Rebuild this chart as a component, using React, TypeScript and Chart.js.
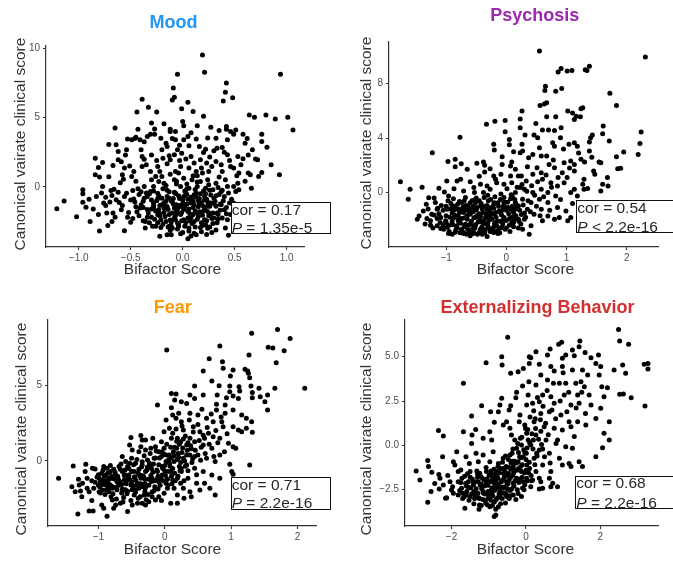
import React, { useEffect, useRef } from "react";
import { Chart, registerables } from "chart.js";

Chart.register(...registerables);

type Pt = [number, number];

// ---------------- DATA ----------------
const moodTitle = "Mood";
const psychosisTitle = "Psychosis";
const fearTitle = "Fear";
const externalizingTitle = "Externalizing Behavior";

const xAxisLabel = "Bifactor Score";
const yAxisLabel = "Canonical vairate clinical score";

const moodXTicks = [-1, -0.5, 0, 0.5, 1];
const moodYTicks = [0, 5, 10];
const psychosisXTicks = [-1, 0, 1, 2];
const psychosisYTicks = [0, 4, 8];
const fearXTicks = [-1, 0, 1, 2];
const fearYTicks = [0, 5];
const externalizingXTicks = [-2, 0, 2];
const externalizingYTicks = [-2.5, 0, 2.5, 5];

const moodCor = "0.17";
const moodP = "= 1.35e-5";
const psychosisCor = "0.54";
const psychosisP = "< 2.2e-16";
const fearCor = "0.71";
const fearP = "= 2.2e-16";
const externalizingCor = "0.68";
const externalizingP = "= 2.2e-16";

const moodPoints: Pt[] = [
  [-1.21,-1.59],[-1.14,-1.03],[-1.02,-2.16],[-0.96,-0.5],[-0.96,-0.22],[-0.96,-1.11],[-0.93,-1.47],[-0.89,-2.5],
  [-0.84,2.07],[-0.81,1.39],[-0.77,1.75],[-0.84,0.87],[-0.8,0.7],[-0.83,-0.7],[-0.77,0.02],[-0.76,-1.18],
  [-0.74,-1.35],[-0.74,-0.75],[-0.81,-2.0],[-0.8,-3.2],[-0.71,3.05],[-0.64,3.03],[-0.65,4.25],[-0.71,0.72],
  [-0.69,-0.26],[-0.66,-0.17],[-0.67,1.54],[-0.62,1.95],[-0.59,1.8],[-0.56,1.35],[-0.51,1.51],[-0.68,-0.63],
  [-0.64,-0.94],[-0.67,-1.9],[-0.72,-2.79],[-0.68,-2.5],[-0.61,-1.13],[-0.59,-1.66],[-0.56,-0.7],[-0.56,-3.17],
  [-0.54,-0.46],[-0.52,-1.85],[-0.5,-2.57],[-0.58,0.87],[-0.57,0.55],[-0.48,-0.26],[-0.47,-0.89],[-0.44,5.41],
  [-0.39,6.32],[-0.33,5.75],[-0.25,5.41],[-0.54,2.67],[-0.53,3.46],[-0.49,3.39],[-0.46,3.49],[-0.45,3.58],
  [-0.41,3.39],[-0.37,3.25],[-0.34,3.63],[-0.31,3.8],[-0.27,4.18],[-0.27,3.8],[-0.4,2.67],[-0.39,2.19],
  [-0.37,1.99],[-0.39,1.47],[-0.47,1.11],[-0.49,0.75],[-0.43,-0.14],[-0.37,0.02],[-0.37,-0.82],[-0.38,-2.45],
  [-0.36,-2.98],[-0.41,-1.54],[-0.31,1.11],[-0.3,0.5],[-0.31,-0.34],[-0.24,1.47],[-0.21,3.51],[-0.2,2.67],
  [-0.19,2.07],[-0.16,3.15],[-0.15,2.91],[-0.1,3.49],[-0.12,3.99],[-0.09,7.14],[-0.1,6.27],[-0.08,6.47],
  [-0.12,4.16],[-0.15,1.66],[-0.13,2.24],[-0.12,1.95],[-0.08,2.31],[-0.26,0.75],[-0.23,0.38],[-0.2,0.75],
  [-0.18,0.26],[-0.28,0.02],[-0.24,-0.46],[-0.34,-0.7],[-0.28,-1.18],[-0.23,-1.66],[-0.18,-1.18],[-0.13,-0.82],
  [-0.15,-1.42],[-0.1,-1.9],[-0.21,-2.38],[-0.16,-2.5],[-0.13,-2.86],[-0.22,-3.58],[-0.15,-3.46],[-0.11,-3.46],
  [-0.29,-2.86],[-0.24,-2.02],[-0.07,-0.46],[-0.08,0.5],[-0.07,1.11],[-0.2,-0.82],[-0.18,-1.54],[-0.08,-1.54],
  [-0.28,-1.54],[-0.33,-1.9],[-0.07,-2.38],[-0.11,-2.86],
  [0.19,9.52],[0.21,8.27],[-0.05,8.13],[0.94,8.13],[0.42,7.5],[0.41,6.83],[0.48,6.44],[0.39,6.2],
  [0.05,6.11],[-0.01,5.63],[0.1,5.43],[0.64,5.19],[0.69,5.02],[0.8,5.19],[0.89,4.9],[1.01,5.02],
  [1.06,4.11],[0.0,4.71],[0.01,4.4],[0.14,4.4],[0.42,4.35],[0.42,4.16],[0.46,3.99],[0.51,4.11],
  [0.49,3.8],[0.35,4.06],[0.24,3.53],[0.32,3.51],[0.76,3.8],[0.76,3.27],[0.81,2.86],[0.62,3.49],
  [0.6,3.15],[0.67,2.67],[0.7,2.0],[0.72,1.95],[0.85,1.59],[0.93,0.87],[0.76,1.03],[0.73,0.75],
  [0.63,0.99],[0.65,0.87],[0.58,2.02],[0.53,2.19],[0.46,1.47],[0.49,1.35],[0.54,0.99],[0.53,0.26],
  [0.49,0.02],[0.52,0.79],[0.54,-0.22],[0.43,3.39],[0.38,2.84],[0.4,2.5],[0.43,2.31],[0.33,2.79],
  [0.3,2.6],[0.22,2.72],[0.2,2.48],[0.16,2.91],[0.13,3.46],[0.05,3.63],[-0.07,4.0],[-0.07,3.39],
  [0.01,3.39],[0.06,2.96],[-0.05,2.67],[-0.01,2.43],[0.08,2.19],[0.11,1.71],[0.17,1.95],[0.23,1.71],
  [0.28,1.47],[0.32,1.83],[0.37,1.59],[0.38,1.11],[0.25,1.11],[0.19,0.99],[0.13,1.11],[0.06,1.35],
  [-0.02,1.47],[-0.04,0.99],[0.01,0.62],[0.09,0.5],[0.17,0.38],[0.24,0.5],[0.32,0.26],[0.41,0.5],
  [0.43,0.02],[0.37,-0.34],[0.29,-0.22],[0.22,-0.1],[0.14,0.02],[0.06,-0.1],[-0.02,0.02],[-0.07,-0.46],
  [0.01,-0.7],[0.11,-0.58],[0.21,-0.7],[0.3,-0.82],[0.4,-0.7],[0.45,-1.18],[0.49,-1.18],[0.37,-1.3],
  [0.27,-1.18],[0.17,-1.3],[0.08,-1.18],[-0.02,-1.42],[-0.05,-1.9],[0.05,-1.78],[0.14,-1.9],[0.24,-1.78],
  [0.33,-1.9],[0.4,-1.66],[0.43,-2.38],[0.3,-2.26],[0.21,-2.38],[0.11,-2.5],[0.01,-2.38],[-0.05,-2.62],
  [0.06,-2.98],[0.13,-3.46],[0.05,-3.75],[0.24,-3.0],[0.32,-3.12],[0.41,-2.98],[0.44,-3.51],[0.51,-0.34],
  [-0.25,-1.0],[-0.2,-1.3],[-0.15,-0.7],[-0.1,-1.1],[-0.05,-1.6],[0.0,-1.2],[0.05,-0.9],[0.1,-1.5],
  [0.15,-1.0],[0.2,-1.4],[-0.22,-2.1],[-0.12,-2.4],[-0.02,-2.0],[0.08,-2.2],[0.18,-2.6],[0.28,-2.3],
  [-0.3,-1.6],[-0.18,-1.85],[-0.08,-0.4],[0.02,-0.3],[0.12,-0.2],[0.22,-0.5],[0.32,-1.4],[-0.28,-0.3],
  [-0.16,0.1],[-0.06,0.4],[0.04,0.2],[0.14,0.8],[0.24,-1.1],[-0.14,-2.9],[-0.04,-2.7],[0.06,-3.2],
  [0.16,-1.8],[0.26,-2.9],[0.34,-2.0],[-0.24,-2.6],[-0.34,-2.2],[-0.44,-1.8],[-0.4,-1.3],[-0.48,-2.3],
  [-0.38,-1.05],[-0.35,-0.45],[-0.32,-2.6],[-0.3,-0.95],[-0.27,-2.35],[-0.26,-1.75],[-0.23,-0.65],[-0.22,-1.35],
  [-0.21,-2.95],[-0.19,-0.15],[-0.17,-2.15],[-0.16,-1.05],[-0.14,-1.65],[-0.13,-0.35],[-0.12,-3.15],[-0.11,-2.55],
  [-0.09,-1.25],[-0.09,-0.85],[-0.07,-2.1],[-0.06,-1.75],[-0.05,-3.05],[-0.04,-0.65],[-0.03,-1.35],[-0.01,-2.45],
  [0.0,-0.95],[0.01,-1.65],[0.02,-2.85],[0.03,-0.45],[0.04,-1.25],[0.05,-2.25],[0.07,-1.95],[0.08,-0.75],
  [0.09,-2.65],[0.1,-1.05],[0.11,-3.35],[0.12,-1.75],[0.13,-0.45],[0.14,-2.35],[0.15,-1.45],[0.16,-0.85],
  [0.17,-2.95],[0.18,-1.15],[0.19,-2.05],[0.2,-0.3],[0.21,-1.6],[0.22,-2.75],[0.23,-0.9],[0.25,-2.1],
  [0.26,-1.4],[0.27,-0.6],[0.28,-3.3],[0.29,-1.9],[0.31,-1.05],[0.33,-2.6],[0.35,-0.55],[0.36,-1.7],
  [0.38,-2.25],[0.39,-1.0],[0.42,-1.5],[0.44,-0.45],[0.46,-2.0],[0.47,-0.9],[-0.42,-0.55],[-0.45,-1.45],
  [-0.5,-0.95],[-0.53,-2.2],[-0.58,-1.35],[-0.62,-0.4],[-0.65,-2.2],[-0.7,-1.1],[-0.73,-1.9],[-0.78,-0.45],
  [-0.86,-1.6],[-0.9,-0.9],[-0.6,0.3],[-0.45,0.4],[-0.35,1.6],[-0.3,2.3],[-0.25,1.9],[-0.22,1.1],
  [-0.12,0.9],[-0.03,1.9],[0.03,2.0],[0.1,0.8],[0.18,1.35],[0.26,2.15],[0.35,0.7],[0.45,1.9],
  [0.56,1.6],[0.6,0.4],[0.66,-0.1],[-0.03,3.0],[0.08,3.9],[-0.18,4.55],[0.27,4.3],[0.58,3.8],
  [0.63,2.3],[-0.55,2.3],[-0.62,2.55],[-0.43,4.15],[0.2,5.1],[-0.3,4.6],
  [-0.19,-2.7],[-0.17,-1.45],[-0.15,-0.25],[-0.13,-2.0],[-0.11,-1.0],[-0.1,-3.0],[-0.08,-2.25],[-0.06,-1.3],
  [-0.04,-2.85],[-0.03,-0.85],[-0.01,-1.85],[0.0,-3.3],[0.02,-1.45],[0.03,-2.6],[0.04,-0.55],[0.06,-1.6],
  [0.07,-2.45],[0.09,-0.95],[0.1,-2.0],[0.11,-1.3],[0.12,-2.9],[0.13,-0.75],[0.15,-2.15],[0.16,-1.2],
  [0.17,-0.5],[0.19,-2.8],[0.2,-1.75],[0.21,-0.95],[0.23,-2.45],[0.24,-1.4],[0.26,-0.25],[0.27,-1.95],
  [0.29,-2.65],[0.3,-1.2],[0.32,-0.65],[0.34,-2.35],[0.36,-1.25],[0.38,-0.25],[-0.22,-1.95],[-0.24,-0.85],
  [-0.26,-2.85],[-0.28,-1.35],[-0.3,-2.2],[-0.32,-0.5],[-0.34,-1.65],[-0.36,-2.5],[-0.38,-1.5],[-0.4,-0.35],
  [-0.42,-2.1],[-0.46,-1.1],[0.18,-3.25],[0.08,-3.55],[-0.02,-3.4],[0.23,-3.45],[0.14,0.35],[0.04,-0.15],
  [-0.06,0.2],[0.25,0.15],[0.34,-0.05],[0.42,-1.95]
];

const psychosisPoints: Pt[] = [
  [-1.76,0.8],[-1.6,0.24],[-1.63,-0.49],[-1.4,0.39],[-1.45,-1.71],[-1.48,-1.95],[-1.29,-0.37],[-1.33,-0.85],
  [-1.24,-1.59],[-1.26,-2.07],[-1.18,-0.73],[-1.12,0.32],[-1.15,-1.22],[-1.09,-1.83],[-1.15,-2.44],[-1.09,-2.63],
  [-1.03,0.05],[-0.99,0.85],[-0.97,2.29],[-1.23,2.93],[-0.85,2.44],[-0.85,1.9],[-0.77,4.07],[-0.75,2.12],
  [-0.65,1.71],[-0.82,0.85],[-0.76,0.98],[-0.87,0.29],[-0.96,-0.24],[-0.9,-0.98],[-0.98,-1.22],[-0.87,-1.83],
  [-0.9,-3.05],[-0.82,-2.56],[-0.79,-1.22],[-0.74,-0.73],[-0.71,0.12],[-0.65,-1.95],[-0.71,-2.93],[-0.6,-3.17],
  [-0.57,-1.22],[-0.54,0.37],[-0.53,0.0],[-0.49,2.15],[-0.38,2.24],[-0.36,2.0],[-0.36,1.51],[-0.33,5.02],
  [-0.19,5.24],[-0.02,5.29],[-0.02,4.46],[-0.27,1.76],[-0.21,1.22],[-0.18,0.98],[-0.21,3.54],[-0.2,3.12],
  [-0.07,2.63],[-0.07,2.07],[-0.09,1.34],[0.05,3.9],[0.05,3.51],[0.09,2.24],[0.07,1.95],[0.23,5.41],
  [0.26,5.98],[0.23,4.76],[0.26,3.54],[0.23,2.93],[-0.43,0.61],[-0.38,0.0],[-0.32,0.49],[-0.27,0.24],
  [-0.16,0.73],[-0.04,0.61],[0.01,0.29],[0.09,0.73],[0.15,0.0],[0.23,0.37],[0.2,1.22],[0.15,1.71],
  [0.07,1.22],[0.15,-0.73],[0.07,-1.22],[-0.04,-0.73],[-0.1,-1.46],[-0.18,-2.2],[-0.27,-2.68],[-0.32,-3.22],
  [-0.21,-2.93],[-0.07,-2.56],[-0.02,-2.68],[-0.04,-1.83],[-0.32,-1.22],[-0.43,-0.98],[-0.49,-1.71],[-0.54,-2.44],
  [-0.43,-2.68],[-0.38,-2.07],[-0.27,-1.71],[-0.21,-0.85],[-0.65,-0.98],[-0.71,-1.46],[-0.6,-1.59],[-0.51,-0.73],
  [-1.01,-2.07],[-1.04,-2.68],[-0.79,-2.2],[-0.74,-2.8],[-0.54,-2.93],[-0.68,-2.32],[0.12,-1.46],[0.2,-1.95],
  [0.2,-0.98],[0.12,-2.2],
  [0.55,10.39],[2.31,9.95],[0.86,8.85],[0.91,9.1],[1.01,8.93],[1.09,8.95],[1.31,9.02],[1.38,9.27],
  [1.34,8.95],[0.65,7.8],[0.64,7.49],[0.82,7.44],[0.92,7.63],[1.72,7.29],[1.83,6.39],[0.56,6.39],
  [0.63,6.51],[0.67,6.59],[0.49,5.07],[0.67,5.56],[0.82,5.56],[1.02,5.98],[1.1,5.85],[1.13,5.37],
  [1.16,5.61],[1.24,6.15],[1.27,6.22],[1.23,5.56],[1.61,4.88],[1.6,4.32],[1.43,4.22],[1.4,4.02],
  [0.31,4.22],[0.46,4.22],[0.52,4.02],[0.7,4.59],[0.8,4.56],[0.91,4.76],[0.77,3.66],[0.8,3.41],
  [0.9,4.02],[1.04,3.54],[1.13,3.66],[1.18,3.41],[1.38,3.71],[1.38,3.05],[1.71,3.78],[1.95,2.98],
  [2.19,2.8],[2.22,3.61],[2.24,4.44],[1.83,2.63],[1.85,1.76],[1.9,1.78],[0.27,3.05],[0.37,2.56],
  [0.44,2.8],[0.58,2.68],[0.67,2.68],[0.51,1.83],[0.58,1.46],[0.71,2.07],[0.8,1.83],[0.96,2.2],
  [1.07,2.32],[1.13,2.07],[1.24,2.44],[1.3,2.24],[1.54,2.24],[1.57,2.2],[1.45,1.59],[1.47,1.34],
  [1.29,0.98],[1.13,1.59],[0.93,1.46],[1.01,1.1],[1.27,0.61],[1.29,0.24],[1.6,0.61],[1.68,1.1],
  [1.57,0.12],[1.69,0.49],[0.25,1.22],[0.33,0.85],[0.44,1.34],[0.6,0.98],[0.74,0.73],[0.85,0.49],
  [0.96,0.73],[0.3,0.24],[0.44,0.0],[0.58,0.24],[0.69,0.0],[0.82,-0.24],[1.07,0.0],[1.13,0.24],
  [1.18,-0.24],[0.27,-0.49],[0.41,-0.73],[0.55,-0.49],[0.69,-0.73],[0.85,-1.1],[0.99,-1.34],[1.07,-1.83],
  [1.02,-2.07],[0.8,-1.95],[0.88,-1.83],[0.35,-1.22],[0.46,-1.59],[0.3,-1.95],[0.41,-2.44],[0.38,-3.05],
  [0.27,-2.68],[0.58,-1.22],[0.69,-1.71],[0.6,-2.07],
  [-0.9,-1.5],[-0.8,-2.0],[-0.7,-1.3],[-0.6,-2.3],[-0.5,-1.8],[-0.4,-1.2],[-0.3,-2.5],[-0.2,-1.6],
  [-0.1,-2.1],[0.0,-1.3],[0.1,-1.8],[-0.95,-2.4],[-0.85,-1.0],[-0.75,-2.7],[-0.65,-1.7],[-0.55,-1.0],
  [-0.45,-2.9],[-0.35,-1.9],[-0.25,-1.1],[-0.15,-2.8],[-0.05,-1.0],[0.05,-2.4],[0.15,-1.2],[-1.05,-1.3],
  [-1.15,-1.9],[-0.6,-2.8],[-0.4,-2.2],[-0.2,-2.3],[-0.7,-0.6],[-0.5,-0.4],[-0.3,-0.6],[-0.1,-0.5],
  [0.1,-0.3],[-0.85,-2.9],[-0.55,-3.0],[-0.35,-2.7],[0.2,-2.6],[0.3,-1.5],[-1.0,-2.2],[-0.62,-1.1],
  [-1.12,-1.55],[-1.08,-0.95],[-1.05,-2.35],[-1.0,-1.7],[-0.97,-0.6],[-0.95,-2.85],[-0.92,-1.2],[-0.9,-2.1],
  [-0.88,-0.45],[-0.86,-1.65],[-0.83,-2.45],[-0.81,-0.85],[-0.78,-1.45],[-0.77,-2.95],[-0.74,-1.9],[-0.72,-1.05],
  [-0.7,-2.5],[-0.68,-0.35],[-0.66,-1.25],[-0.64,-2.7],[-0.62,-1.55],[-0.6,-0.75],[-0.58,-2.1],[-0.56,-2.65],
  [-0.55,-1.4],[-0.53,-0.55],[-0.51,-2.35],[-0.49,-1.1],[-0.48,-3.05],[-0.46,-1.55],[-0.44,-2.05],[-0.42,-0.8],
  [-0.41,-2.55],[-0.39,-1.45],[-0.37,-0.35],[-0.36,-2.95],[-0.34,-1.75],[-0.32,-0.95],[-0.31,-2.25],[-0.29,-1.3],
  [-0.27,-2.85],[-0.26,-0.5],[-0.24,-1.95],[-0.22,-2.6],[-0.21,-1.15],[-0.19,-0.3],[-0.17,-1.8],[-0.16,-2.45],
  [-0.14,-0.75],[-0.12,-1.35],[-0.11,-2.95],[-0.09,-0.1],[-0.08,-1.65],[-0.06,-2.3],[-0.04,-0.35],[-0.02,-1.1],
  [0.0,-2.05],[0.02,-0.7],[0.04,-1.55],[0.06,-2.85],[0.08,-0.15],[0.1,-1.0],[0.12,-2.5],[0.14,-0.5],
  [0.16,-1.7],[0.18,0.4],[0.22,-1.3],[0.24,-2.3],[0.26,0.6],[0.28,-0.9],[0.32,-1.8],[0.34,0.1],
  [0.36,-0.6],[0.4,-1.4],[0.42,0.5],[0.47,-0.2],[0.5,-1.0],[0.52,0.8],[0.56,-1.7],[0.62,-0.3],
  [0.66,1.3],[0.72,-1.3],[0.75,0.4],[0.78,2.4],[0.86,1.1],[0.9,-0.5],[0.95,3.2],[1.05,1.8],
  [1.1,-0.8],[1.2,2.9],[1.35,0.3],[1.42,2.6],[0.55,3.3],[0.6,4.6],[0.35,1.9],[0.12,3.0],
  [-0.6,0.8],[-0.45,1.2],[-1.3,-1.2],[-1.35,-2.3],[-1.22,-2.6],[-1.2,-0.4],
  [-1.0,-1.0],[-0.98,-2.55],[-0.94,-1.8],[-0.92,-0.8],[-0.89,-2.35],[-0.86,-1.25],[-0.84,-2.75],[-0.8,-1.7],
  [-0.78,-0.65],[-0.76,-2.25],[-0.73,-1.2],[-0.71,-3.0],[-0.69,-1.85],[-0.67,-0.95],[-0.63,-2.4],[-0.61,-1.35],
  [-0.59,-2.9],[-0.57,-0.6],[-0.54,-1.85],[-0.52,-2.6],[-0.5,-1.25],[-0.47,-2.15],[-0.45,-0.6],[-0.43,-1.75],
  [-0.4,-2.75],[-0.38,-1.0],[-0.35,-2.3],[-0.33,-1.55],[-0.31,-0.2],[-0.28,-2.0],[-0.26,-1.45],[-0.23,-2.75],
  [-0.2,-0.75],[-0.18,-1.45],[-0.15,-2.1],[-0.13,-1.0],[-0.1,-2.6],[-0.07,-1.3],[-0.05,-2.0],[-0.03,-0.7],
  [0.0,-2.6],[0.03,-1.1],[0.05,-1.9],[0.07,-0.45],[0.09,-2.2],[0.11,-1.25],[0.13,-1.95],[0.17,-0.9],
  [0.21,-2.1],[0.25,-1.6],[-1.1,-2.2],[-1.14,-1.15],[-1.2,-1.65],[-1.26,-2.4],[-1.32,-1.9],[-1.38,-1.35],
  [-0.96,-3.0],[-0.66,-3.05],[-0.4,-3.05],[-0.14,-3.0]
];

const fearPoints: Pt[] = [
  [-1.6,-1.14],[-1.38,-0.33],[-1.19,-0.22],[-1.31,-3.49],[-1.14,-3.29],[-1.08,-3.29],[-0.87,-3.64],[-0.92,-3.11],
  [-1.27,-1.97],[-1.24,-1.47],[-1.29,-1.58],[-1.35,-2.02],[-1.17,-1.14],[-1.17,-1.8],[-1.14,-2.02],[-1.09,-0.48],
  [-1.05,-0.53],[-1.07,-1.8],[-0.99,-1.14],[-0.97,-1.36],[-0.92,-0.37],[-0.87,-0.48],[-0.89,-0.92],[-0.84,-1.14],
  [-0.89,-1.58],[-0.94,-1.91],[-0.84,-2.02],[-0.79,-2.57],[-0.74,-2.89],[-0.77,-3.11],[-0.67,-2.79],[-0.56,-3.33],
  [-0.49,-2.89],[-0.41,-2.79],[-0.34,-2.79],[-0.29,-2.89],[-0.24,-2.68],[-0.14,-2.57],[-0.19,-2.35],[-0.09,-2.35],
  [-0.01,-2.13],[0.09,-2.79],[0.04,-1.8],[-0.74,-0.92],[-0.69,-0.37],[-0.64,-0.7],[-0.61,-1.25],[-0.69,-1.58],
  [-0.59,-1.91],[-0.51,-1.58],[-0.54,-0.92],[-0.56,-0.37],[-0.46,-0.7],[-0.44,-1.25],[-0.39,-1.8],[-0.46,-2.24],
  [-0.31,-2.24],[-0.36,-1.14],[-0.29,-0.7],[-0.34,-0.26],[-0.26,0.07],[-0.21,-0.37],[-0.19,-1.14],[-0.11,-0.7],
  [-0.09,-1.36],[-0.04,-0.37],[-0.04,-0.92],[0.02,-1.47],[0.09,-0.7],[0.12,-1.25],[0.14,-1.8],[0.19,-2.24],
  [-0.51,1.54],[-0.53,1.05],[-0.49,0.72],[-0.36,1.67],[-0.34,1.38],[-0.29,1.38],[-0.36,0.94],[-0.39,0.61],
  [-0.29,0.72],[-0.21,0.83],[-0.64,0.29],[-0.59,-0.04],[-0.5,0.18],[-0.44,-0.15],[-0.18,1.49],[-0.14,0.94],
  [-0.09,0.61],[-0.11,3.68],[-0.05,1.27],[-0.01,0.83],[-0.01,1.93],[0.02,2.7],[0.03,7.3],[0.1,4.45],
  [0.17,4.41],[0.15,4.01],[0.1,3.51],[0.12,3.03],[0.17,2.81],[0.21,3.14],[0.07,2.15],[0.12,1.82],
  [0.19,1.49],[0.18,0.83],[0.07,0.39],[0.14,-0.04],[0.22,-0.37],[0.19,-1.14],[0.19,-2.79],[0.24,-1.47],
  [0.02,-0.04],[-0.16,0.18],[-0.72,-1.36],[-0.79,-1.8],[-0.82,-0.7],[-0.99,-2.02],
  [1.7,8.66],[1.31,8.4],[1.89,8.07],[0.83,7.57],[1.56,7.48],[1.63,7.43],[1.8,7.26],[1.27,6.97],
  [0.67,6.73],[0.87,6.54],[0.88,6.1],[1.68,6.47],[1.21,6.03],[1.25,5.92],[1.26,5.77],[1.28,5.48],
  [0.99,5.59],[1.03,5.99],[0.58,5.92],[0.71,5.26],[0.82,4.96],[0.98,4.93],[1.12,4.89],[1.3,4.93],
  [1.32,4.5],[1.42,4.78],[1.55,4.34],[1.66,4.78],[2.11,4.78],[1.32,4.17],[1.44,4.23],[1.51,3.9],
  [1.55,3.36],[0.45,4.93],[0.38,4.34],[0.25,3.9],[0.33,3.79],[0.45,4.12],[0.58,4.34],[0.79,4.34],
  [0.93,4.17],[0.98,4.56],[1.13,4.61],[1.03,4.28],[1.11,4.12],[0.91,3.68],[0.78,3.73],[0.78,3.36],
  [0.91,3.14],[1.03,3.36],[1.16,3.03],[1.23,2.81],[1.31,2.59],[0.38,3.14],[0.5,3.03],[0.63,2.81],
  [0.73,2.59],[0.86,2.59],[0.88,2.26],[1.03,2.26],[1.11,2.04],[1.16,1.93],[1.32,1.89],[1.23,2.15],
  [0.25,2.59],[0.28,2.04],[0.43,2.26],[0.53,1.93],[0.66,1.82],[0.73,1.6],[0.83,1.49],[0.96,1.16],
  [1.03,0.94],[1.07,0.83],[1.28,-0.26],[0.98,-0.22],[1.01,-0.7],[0.24,1.27],[0.33,1.05],[0.45,1.27],
  [0.58,1.05],[0.71,0.83],[0.83,0.39],[0.76,-0.04],[0.63,0.18],[0.5,0.39],[0.38,0.39],[0.28,0.18],
  [0.33,-0.26],[0.45,-0.48],[0.58,-0.7],[0.71,-0.92],[0.83,-1.14],[0.25,-0.7],[0.35,-1.14],[0.48,-1.47],
  [0.6,-1.47],[0.68,-1.8],[0.53,-1.91],[0.38,-2.02],[0.28,-1.8],[0.4,-2.35],[0.29,-2.46],[0.76,-2.24],
  [1.03,-0.88],
  [-0.9,-1.3],[-0.8,-1.0],[-0.7,-1.6],[-0.6,-0.9],[-0.5,-1.4],[-0.4,-0.8],[-0.3,-1.5],[-0.2,-0.5],
  [-0.1,-1.0],[0.0,-0.3],[0.1,0.2],[0.2,0.5],[0.3,0.0],[0.4,0.8],[-0.85,-1.8],[-0.75,-1.2],
  [-0.65,-2.1],[-0.55,-1.1],[-0.45,-1.9],[-0.35,-0.4],[-0.25,-1.2],[-0.15,-1.7],[-0.05,0.3],[0.05,-0.7],
  [0.15,0.9],[0.25,-0.5],[0.35,1.2],[0.45,0.3],[0.55,0.9],[0.6,1.5],[-0.95,-0.8],[-1.0,-1.6],
  [-0.6,-1.9],[-0.3,-2.0],[0.1,-1.0],
  [-1.02,-1.05],[-0.98,-1.7],[-0.95,-1.25],[-0.93,-0.6],[-0.9,-2.2],[-0.88,-1.4],[-0.86,-0.8],[-0.83,-1.55],
  [-0.81,-2.35],[-0.79,-1.15],[-0.77,-0.55],[-0.75,-1.75],[-0.73,-2.5],[-0.71,-1.0],[-0.68,-1.35],[-0.66,-0.2],
  [-0.64,-1.85],[-0.62,-2.4],[-0.6,-0.6],[-0.58,-1.5],[-0.57,-2.15],[-0.55,-1.2],[-0.53,-0.15],[-0.51,-2.6],
  [-0.5,-0.7],[-0.48,-1.65],[-0.46,-1.05],[-0.44,-2.05],[-0.42,0.1],[-0.41,-1.45],[-0.39,-0.55],[-0.37,-2.35],
  [-0.35,-0.95],[-0.33,-1.7],[-0.31,0.35],[-0.3,-1.2],[-0.28,-2.55],[-0.26,-0.4],[-0.24,-1.6],[-0.22,0.5],
  [-0.21,-0.95],[-0.19,-2.05],[-0.17,-0.2],[-0.15,-1.3],[-0.13,0.65],[-0.12,-0.6],[-0.1,-1.85],[-0.08,0.2],
  [-0.06,-1.15],[-0.05,-2.6],[-0.03,-0.5],[-0.01,0.45],[0.01,-0.95],[0.03,1.1],[0.05,-1.6],[0.06,0.1],
  [0.08,-0.35],[0.1,1.5],[0.11,-1.5],[0.13,0.6],[0.15,-0.8],[0.17,2.1],[0.19,0.1],[0.2,-1.0],
  [0.22,1.1],[0.24,-0.1],[0.26,2.3],[0.27,0.85],[0.29,-1.3],[0.31,1.65],[0.33,0.4],[0.35,-0.65],
  [0.37,2.7],[0.39,1.0],[0.41,-0.1],[0.43,1.9],[0.46,0.7],[0.48,-0.9],[0.5,2.4],[0.52,1.35],
  [0.54,0.05],[0.56,3.4],[0.58,1.7],[0.61,0.5],[0.64,2.2],[0.67,1.1],[0.7,3.1],[0.74,0.3],
  [0.77,2.0],[0.8,1.2],[0.85,2.9],[0.9,0.6],[0.94,1.8],[-1.1,-1.3],[-1.2,-0.7],[-1.25,-2.35],
  [-1.3,-1.2],[-1.4,-1.7],[-1.1,-2.6],[-0.95,-2.9],
  [-1.05,-1.4],[-1.0,-0.9],[-0.97,-2.1],[-0.94,-1.55],[-0.91,-1.0],[-0.88,-1.9],[-0.85,-1.25],[-0.82,-0.3],
  [-0.8,-1.65],[-0.78,-2.15],[-0.75,-0.75],[-0.72,-1.9],[-0.7,-1.2],[-0.67,-0.55],[-0.65,-1.55],[-0.63,-2.7],
  [-0.61,-0.95],[-0.59,-1.35],[-0.56,-2.0],[-0.54,-0.5],[-0.52,-1.25],[-0.49,-1.9],[-0.47,-0.25],[-0.45,-1.05],
  [-0.43,-1.6],[-0.4,-2.45],[-0.38,-0.95],[-0.36,-1.5],[-0.34,-0.05],[-0.32,-1.0],[-0.29,-1.75],[-0.27,-0.6],
  [-0.25,-2.2],[-0.23,-0.15],[-0.2,-1.35],[-0.18,-0.75],[-0.16,-1.95],[-0.14,0.2],[-0.11,-1.15],[-0.09,-0.25],
  [-0.07,-1.6],[-0.04,0.6],[-0.02,-1.3],[0.0,-0.65],[0.02,0.4],[0.04,-1.2],[0.07,-0.15],[0.09,0.9],
  [0.12,-0.5],[0.14,0.35],[0.16,-1.3],[0.18,1.3],[0.21,0.25],[0.23,-0.65],[0.26,0.55],[0.28,1.45],
  [0.31,-0.35],[0.34,0.7],[0.38,1.5],[0.42,0.15]
];

const externalizingPoints: Pt[] = [
  [-2.95,-1.45],[-2.85,-1.95],[-2.64,-0.85],[-2.62,-1.2],[-2.64,-3.21],[-2.53,-1.52],[-2.35,0.83],[-2.22,0.53],
  [-2.34,-1.64],[-2.31,-1.86],[-2.24,-0.64],[-2.33,-2.46],[-2.22,-2.24],[-2.13,-2.95],[-2.04,-2.05],[-2.0,-2.52],
  [-2.16,-2.99],[-1.95,-0.92],[-1.91,-1.11],[-1.86,-0.36],[-1.82,-1.48],[-1.82,-2.8],[-1.73,-2.42],[-1.68,3.5],
  [-1.68,0.77],[-1.64,-3.55],[-1.61,-0.64],[-1.75,-1.39],[-1.52,-1.02],[-1.46,1.65],[-1.45,0.58],[-1.46,0.11],
  [-1.5,-1.48],[-1.55,-2.05],[-1.59,-2.61],[-1.41,-2.24],[-1.37,-2.8],[-1.34,-0.45],[-1.28,-0.92],[-1.24,-1.58],
  [-1.25,-3.36],[-1.15,-0.55],[-1.19,2.24],[-1.07,4.66],[-1.06,-2.14],[-1.01,-2.99],[-0.97,-0.92],[-0.95,1.9],
  [-0.97,0.77],[-0.92,0.3],[-0.88,-0.36],[-0.88,-1.82],[-0.97,-3.46],[-0.81,-3.93],[-0.85,-4.02],[-0.74,-3.46],
  [-0.79,-2.42],[-0.7,-2.8],[-0.65,5.0],[-0.64,4.53],[-0.49,6.09],[-0.41,4.06],[-0.21,4.15],[-0.07,4.34],
  [0.09,5.0],[0.09,4.62],[-0.09,3.35],[0.08,3.59],[-0.25,2.99],[-0.27,2.69],[-0.41,2.24],[-0.45,1.99],
  [-0.7,2.27],[-0.74,1.9],[-0.65,2.65],[-0.61,1.15],[-0.52,1.33],[-0.43,0.96],[-0.39,0.58],[-0.3,0.3],
  [-0.16,1.71],[-0.18,1.33],[-0.03,1.15],[0.02,0.68],[0.02,2.27],[0.06,2.84],[-0.12,0.02],[-0.25,-0.17],
  [-0.43,-0.55],[-0.61,-0.73],[-0.74,-1.02],[-0.61,-1.3],[-0.47,-1.58],[-0.34,-1.2],[-0.21,-0.92],[-0.07,-0.64],
  [0.02,-1.11],[-0.12,-1.48],[-0.25,-1.86],[-0.34,-2.14],[-0.52,-2.05],[-0.61,-2.42],[-0.52,-2.89],[-0.34,-2.8],
  [-0.21,-2.71],[-0.12,-2.89],[-0.03,-2.24],[0.02,-1.86],[-0.79,-1.48],[-0.92,-2.42],[-1.15,-2.61],[-1.28,-2.05],
  [-1.06,-1.48],[-1.82,-2.05],[-1.97,-2.33],
  [2.49,6.54],[2.52,5.88],[2.76,5.7],[1.45,5.88],[0.96,5.81],[0.88,5.7],[0.65,5.43],[1.25,5.38],
  [1.3,5.06],[1.43,5.56],[1.59,5.24],[1.95,5.09],[0.27,5.28],[0.13,4.94],[0.58,5.09],[0.98,4.91],
  [1.07,5.09],[1.75,4.94],[1.88,4.62],[2.01,4.44],[2.37,4.25],[2.6,4.53],[2.68,4.06],[3.18,4.57],
  [3.28,4.62],[3.28,4.3],[2.62,2.89],[2.52,2.88],[2.83,2.69],[3.2,2.22],[0.36,4.57],[0.67,4.44],
  [0.76,4.19],[0.98,4.44],[1.25,4.25],[1.52,4.25],[1.66,3.97],[1.97,3.97],[0.4,3.97],[0.58,3.68],
  [0.27,3.4],[0.9,3.5],[1.07,3.5],[1.34,3.5],[1.48,3.59],[1.57,3.31],[2.04,3.31],[2.19,3.25],
  [0.45,2.84],[0.67,2.74],[1.03,2.84],[1.39,2.84],[1.7,2.84],[2.1,2.74],[0.18,2.37],[0.36,2.46],
  [0.76,2.37],[1.21,2.27],[1.43,2.37],[1.75,2.27],[2.01,2.09],[0.4,1.8],[0.63,1.9],[0.94,1.71],
  [1.16,1.33],[1.39,1.33],[1.61,1.15],[1.88,1.52],[2.24,1.33],[0.22,1.33],[0.49,1.05],[0.76,0.96],
  [0.98,0.86],[1.21,1.05],[2.1,0.68],[2.24,0.3],[0.27,0.58],[0.54,0.3],[0.81,0.11],[1.07,-0.08],
  [1.25,-0.17],[2.06,-0.13],[0.13,0.02],[0.36,-0.26],[0.63,-0.45],[0.9,-0.73],[1.16,-1.02],[1.43,-0.92],
  [1.52,-1.2],[1.88,-0.64],[0.22,-0.73],[0.45,-1.11],[0.67,-1.48],[0.98,-1.11],[1.21,-1.2],[0.27,-1.48],
  [0.18,-1.95],[0.4,-2.05],[0.63,-1.86],[0.72,-2.14],[0.85,-2.33],[0.67,-2.33],[0.45,-2.42],[0.36,-2.46],
  [0.13,-2.33],
  [-1.4,-2.6],[-1.2,-2.2],[-1.0,-2.8],[-0.8,-2.0],[-0.6,-1.6],[-0.4,-1.0],[-0.2,-0.4],[0.0,-0.8],
  [0.2,0.3],[0.4,0.8],[-1.3,-1.8],[-1.1,-3.1],[-0.9,-2.4],[-0.7,-2.6],[-0.5,-2.2],[-0.3,-1.4],
  [-0.1,-1.8],[0.1,-1.3],[0.3,-0.6],[-1.5,-2.9],[-1.6,-2.3],[-0.95,-1.6],[-0.75,-1.2],[-0.55,-0.6],
  [-0.35,-0.2],[-0.15,0.4],[0.05,0.9],[0.25,1.5],[0.45,-0.2],[-1.25,-3.0],[-0.85,-3.2],[-0.45,-3.0],
  [-0.05,-2.5],[0.15,-2.0],[-1.7,-2.7],
  [-1.78,-2.55],[-1.72,-1.85],[-1.66,-2.9],[-1.62,-2.15],[-1.57,-1.6],[-1.53,-3.1],[-1.49,-2.4],[-1.44,-1.9],
  [-1.4,-3.3],[-1.36,-2.05],[-1.32,-1.45],[-1.29,-2.7],[-1.26,-3.6],[-1.22,-1.75],[-1.19,-2.45],[-1.16,-3.05],
  [-1.13,-1.95],[-1.1,-2.75],[-1.07,-1.25],[-1.04,-3.35],[-1.02,-2.25],[-0.99,-1.7],[-0.96,-2.6],[-0.94,-3.1],
  [-0.91,-1.95],[-0.89,-2.85],[-0.86,-1.35],[-0.83,-2.2],[-0.81,-3.6],[-0.78,-1.75],[-0.76,-2.95],[-0.73,-2.3],
  [-0.71,-1.55],[-0.68,-3.3],[-0.66,-2.05],[-0.63,-0.95],[-0.6,-2.7],[-0.58,-1.8],[-0.55,-3.25],[-0.53,-1.2],
  [-0.5,-2.45],[-0.47,-0.8],[-0.45,-1.95],[-0.42,-2.55],[-0.4,-1.35],[-0.37,-0.45],[-0.35,-1.7],[-0.32,-2.3],
  [-0.3,-0.9],[-0.27,-3.05],[-0.24,-1.4],[-0.22,0.1],[-0.19,-2.1],[-0.17,-0.65],[-0.14,-1.2],[-0.11,0.45],
  [-0.09,-2.4],[-0.06,-0.25],[-0.04,-1.55],[-0.01,0.95],[0.01,-0.45],[0.04,-2.0],[0.06,0.3],[0.09,-0.95],
  [0.11,1.6],[0.14,-1.7],[0.16,0.65],[0.19,-0.2],[0.21,1.95],[0.24,-1.1],[0.26,0.95],[0.29,-0.45],
  [0.31,2.7],[0.34,0.35],[0.36,-1.85],[0.39,1.45],[0.42,0.05],[0.46,2.2],[0.5,-0.65],[0.53,1.25],
  [0.57,3.1],[0.6,0.6],[0.65,-1.0],[0.7,2.0],[0.74,3.5],[0.8,1.5],[0.85,0.3],[0.92,2.5],
  [1.0,4.1],[1.1,1.9],[1.15,3.0],[1.3,0.5],[1.35,2.1],[1.5,3.0],[1.6,1.8],[-2.45,-2.15],
  [-2.1,-1.7],[-1.95,-2.7],[-2.55,-2.6],[-1.15,0.4],[-1.35,0.9],[-0.85,1.3],
  [-1.75,-2.1],[-1.7,-3.0],[-1.65,-1.75],[-1.6,-2.8],[-1.55,-2.35],[-1.5,-1.8],[-1.46,-2.75],[-1.42,-2.1],
  [-1.38,-3.0],[-1.34,-2.45],[-1.3,-1.6],[-1.27,-2.95],[-1.23,-2.25],[-1.2,-3.4],[-1.17,-1.85],[-1.14,-2.7],
  [-1.11,-2.3],[-1.08,-3.25],[-1.05,-1.9],[-1.02,-2.6],[-0.99,-3.0],[-0.97,-2.05],[-0.94,-1.45],[-0.92,-2.7],
  [-0.9,-3.4],[-0.87,-2.1],[-0.84,-2.55],[-0.82,-1.6],[-0.8,-3.05],[-0.77,-2.2],[-0.75,-1.85],[-0.72,-2.75],
  [-0.69,-1.3],[-0.67,-2.35],[-0.64,-3.0],[-0.62,-1.95],[-0.59,-2.35],[-0.57,-1.45],[-0.54,-2.7],[-0.51,-1.7],
  [-0.48,-2.15],[-0.46,-1.25],[-0.43,-2.85],[-0.41,-1.8],[-0.38,-2.45],[-0.36,-0.9],[-0.33,-1.55],[-0.29,-2.0],
  [-0.26,-1.0],[-0.23,-2.5],[-0.2,-1.3],[-0.16,-1.9],[-0.13,-0.7],[-0.1,-1.1],[-0.07,-2.05],[-0.03,-0.4],
  [0.0,-1.4],[0.03,-0.15],[0.07,-1.55],[0.1,0.15]
];

// ---------------- LAYOUT / STYLE ----------------
const W = 673;
const H = 561;
const FONT = '"Liberation Sans", Arial, Helvetica, sans-serif';
const Y_W = 40;
const X_H = 30;

interface Panel {
  title: string;
  color: string;
  points: Pt[];
  xTicks: number[];
  yTicks: number[];
  xDec: number;
  yDec: number;
  xMin: number; xMax: number; yMin: number; yMax: number;
  area: { l: number; r: number; t: number; b: number };
  titlePos: { x: number; top: number };
  xTitlePos: { x: number; top: number };
  yTitlePos: { x: number; y: number };
  box: { l: number; t: number; w: number; h: number; textL: number; line1: number; line2: number };
  cor: string;
  p: string;
}

const panels: Panel[] = [
  {
    title: moodTitle, color: "#2196F3", points: moodPoints, xTicks: moodXTicks, yTicks: moodYTicks,
    xDec: 1, yDec: 0, xMin: -1.314, xMax: 1.166, yMin: -4.35, yMax: 10.17,
    area: { l: 46, r: 304, t: 46, b: 247 },
    titlePos: { x: 173.5, top: 12.5 }, xTitlePos: { x: 172.5, top: 261.3 }, yTitlePos: { x: 19.5, y: 143.5 },
    box: { l: 230.7, t: 201.7, w: 100, h: 32.6, textL: 231.7, line1: 201.9, line2: 220.2 },
    cor: moodCor, p: moodP,
  },
  {
    title: psychosisTitle, color: "#9C27B0", points: psychosisPoints, xTicks: psychosisXTicks, yTicks: psychosisYTicks,
    xDec: 0, yDec: 0, xMin: -1.95, xMax: 2.52, yMin: -3.99, yMax: 11.05,
    area: { l: 389, r: 658, t: 42, b: 247 },
    titlePos: { x: 534.7, top: 6.3 }, xTitlePos: { x: 525.5, top: 261.3 }, yTitlePos: { x: 366.3, y: 143.3 },
    box: { l: 575.7, t: 200, w: 120, h: 32.7, textL: 577.3, line1: 200.2, line2: 218.6 },
    cor: psychosisCor, p: psychosisP,
  },
  {
    title: fearTitle, color: "#FF9800", points: fearPoints, xTicks: fearXTicks, yTicks: fearYTicks,
    xDec: 0, yDec: 0, xMin: -1.76, xMax: 2.28, yMin: -4.28, yMax: 9.28,
    area: { l: 48, r: 316, t: 320, b: 526 },
    titlePos: { x: 172.8, top: 298.4 }, xTitlePos: { x: 172.5, top: 541.3 }, yTitlePos: { x: 21, y: 428.8 },
    box: { l: 231, t: 477.3, w: 99.7, h: 32.7, textL: 231.7, line1: 476.9, line2: 495.2 },
    cor: fearCor, p: fearP,
  },
  {
    title: externalizingTitle, color: "#D32F2F", points: externalizingPoints, xTicks: externalizingXTicks, yTicks: externalizingYTicks,
    xDec: 0, yDec: 1, xMin: -3.25, xMax: 3.55, yMin: -4.55, yMax: 7.07,
    area: { l: 405, r: 658, t: 320, b: 526 },
    titlePos: { x: 537.5, top: 298.4 }, xTitlePos: { x: 525.5, top: 541.3 }, yTitlePos: { x: 366.3, y: 429.3 },
    box: { l: 575.3, t: 476, w: 120, h: 33, textL: 576.3, line1: 475.2, line2: 494.6 },
    cor: externalizingCor, p: externalizingP,
  },
];

const fmt = (v: number, d: number) => {
  const s = Math.abs(v).toFixed(d);
  return v < -1e-9 ? "\u2212" + s : s;
};

function makeChart(canvas: HTMLCanvasElement, p: Panel) {
  const axisCommon = {
    type: "linear" as const,
    grid: {
      display: true,
      drawOnChartArea: false,
      drawTicks: true,
      tickLength: 3,
      color: "#333333",
      tickColor: "#333333",
      tickWidth: 1.1,
    },
    border: { display: true, color: "#333333", width: 1.2 },
  };
  return new Chart(canvas, {
    type: "scatter",
    data: {
      datasets: [
        {
          data: p.points.map(([x, y]) => ({ x, y })),
          pointRadius: 2.5,
          pointHoverRadius: 2.5,
          pointBackgroundColor: "#000000",
          pointBorderWidth: 0,
          backgroundColor: "#000000",
          borderWidth: 0,
        },
      ],
    },
    options: {
      responsive: false,
      animation: false,
      events: [],
      layout: {
        padding: {
          left: p.area.l - Y_W,
          right: W - p.area.r,
          top: p.area.t,
          bottom: H - p.area.b - X_H,
        },
      },
      plugins: {
        legend: { display: false },
        tooltip: { enabled: false },
        title: { display: false },
      },
      scales: {
        x: {
          ...axisCommon,
          position: "bottom",
          min: p.xMin,
          max: p.xMax,
          afterFit: (s: any) => { s.height = X_H; },
          afterBuildTicks: (s: any) => { s.ticks = p.xTicks.map((v) => ({ value: v })); },
          ticks: {
            autoSkip: false,
            maxRotation: 0,
            padding: 2,
            color: "#4D4D4D",
            font: { family: FONT, size: 10 },
            callback: (v: any) => fmt(Number(v), p.xDec),
          },
        },
        y: {
          ...axisCommon,
          position: "left",
          min: p.yMin,
          max: p.yMax,
          afterFit: (s: any) => { s.width = Y_W; },
          afterBuildTicks: (s: any) => { s.ticks = p.yTicks.map((v) => ({ value: v })); },
          ticks: {
            autoSkip: false,
            padding: 3,
            color: "#4D4D4D",
            font: { family: FONT, size: 10 },
            callback: (v: any) => fmt(Number(v), p.yDec),
          },
        },
      },
    },
  } as any);
}

function PanelCanvas({ p }: { p: Panel }) {
  const ref = useRef<HTMLCanvasElement | null>(null);
  useEffect(() => {
    if (!ref.current) return;
    const c = makeChart(ref.current, p);
    return () => c.destroy();
  }, [p]);
  return (
    <canvas
      ref={ref}
      width={W}
      height={H}
      style={{ position: "absolute", left: 0, top: 0, width: W, height: H }}
    />
  );
}

const abs = (extra: React.CSSProperties): React.CSSProperties => ({
  position: "absolute",
  fontFamily: FONT,
  lineHeight: 1,
  whiteSpace: "nowrap",
  ...extra,
});

export default function App() {
  return (
    <div
      style={{
        position: "fixed",
        left: 0,
        top: 0,
        width: W,
        height: H,
        overflow: "hidden",
        background: "#ffffff",
      }}
    >
      {panels.map((p, i) => (
        <PanelCanvas key={"c" + i} p={p} />
      ))}
      {panels.map((p, i) => (
        <React.Fragment key={"t" + i}>
          <div
            style={abs({
              left: p.titlePos.x,
              top: p.titlePos.top,
              transform: "translateX(-50%)",
              fontSize: 18,
              fontWeight: 700,
              color: p.color,
            })}
          >
            {p.title}
          </div>
          <div
            style={abs({
              left: p.xTitlePos.x,
              top: p.xTitlePos.top,
              transform: "translateX(-50%)",
              fontSize: 15.5,
              color: "#333333",
            })}
          >
            {xAxisLabel}
          </div>
          <div
            style={abs({
              left: p.yTitlePos.x,
              top: p.yTitlePos.y,
              transform: "translate(-50%, -50%) rotate(-90deg)",
              fontSize: 15.5,
              color: "#333333",
            })}
          >
            {yAxisLabel}
          </div>
          <div
            style={{
              position: "absolute",
              left: p.box.l,
              top: p.box.t,
              width: p.box.w,
              height: p.box.h,
              border: "1.3px solid #111111",
              background: "#ffffff",
              boxSizing: "border-box",
            }}
          />
          <div style={abs({ left: p.box.textL, top: p.box.line1, fontSize: 15.5, color: "#262626" })}>
            {"cor = " + p.cor}
          </div>
          <div style={abs({ left: p.box.textL, top: p.box.line2, fontSize: 15.5, color: "#262626" })}>
            <i>P</i>
            {" " + p.p}
          </div>
        </React.Fragment>
      ))}
    </div>
  );
}
